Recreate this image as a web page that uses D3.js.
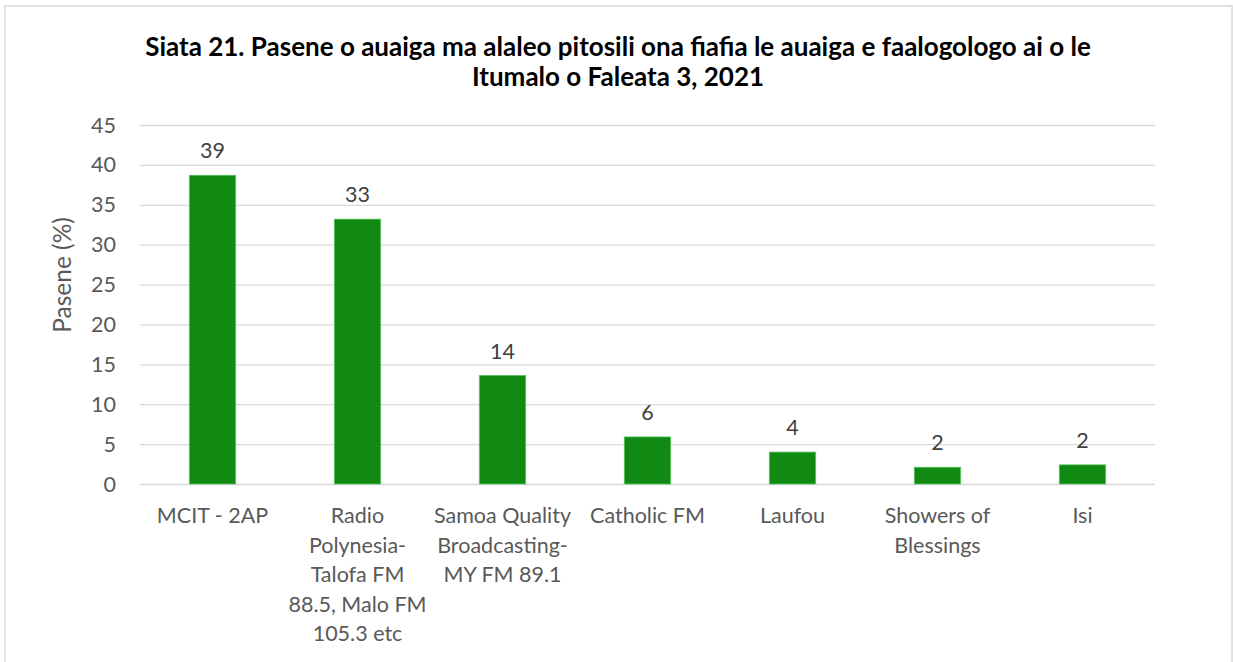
<!DOCTYPE html>
<html>
<head>
<meta charset="utf-8">
<script src="https://cdn.jsdelivr.net/npm/d3@7"></script>
<style>
  body { margin: 0; background: #fff; }
  svg { display: block; font-family: Lato, "Noto Sans", sans-serif; }
  .grid line { stroke: #d9d9d9; stroke-width: 1.3; }
  .grid path { display: none; }
  .yaxis text { fill: #595959; font-size: 21.5px; }
  .xlabel { fill: #595959; font-size: 21.5px; }
  .value { fill: #404040; font-size: 21.5px; }
  .label { fill: #595959; font-size: 24.5px; }
  .title { fill: #000; font-size: 26px; font-weight: bold; }
</style>
</head>
<body>
<svg width="1233" height="662"></svg>
<script>
const categories = [
    'MCIT - 2AP',
    'Radio Polynesia-Talofa FM 88.5, Malo FM 105.3 etc',
    'Samoa Quality Broadcasting-MY FM 89.1',
    'Catholic FM',
    'Laufou',
    'Showers of Blessings',
    'Isi'
];

// wrapped lines as they appear under each bar
const tickLabels = [
    ['MCIT - 2AP'],
    ['Radio', 'Polynesia-', 'Talofa FM', '88.5, Malo FM', '105.3 etc'],
    ['Samoa Quality', 'Broadcasting-', 'MY FM 89.1'],
    ['Catholic FM'],
    ['Laufou'],
    ['Showers of', 'Blessings'],
    ['Isi']
];

const values = [38.7, 33.2, 13.6, 5.9, 4.0, 2.1, 2.4];

const yTicks = [0, 5, 10, 15, 20, 25, 30, 35, 40, 45];

const titleLines = [
    'Siata 21. Pasene o auaiga ma alaleo pitosili ona fiafia le auaiga e faalogologo ai o le',
    'Itumalo o Faleata 3, 2021'
];

const svg = d3.select('svg');

svg.append('rect')
    .attr('x', 5)
    .attr('y', 6)
    .attr('width', 1227)
    .attr('height', 700)
    .attr('fill', 'none')
    .attr('stroke', '#d9d9d9')
    .attr('stroke-width', 1.5);

const plotLeft = 140;
const plotRight = 1155;
const plotTop = 125;
const plotBottom = 484;

const xScale = d3.scaleBand()
    .range([plotLeft, plotRight])
    .domain(categories)
    .paddingInner(0.68)
    .paddingOuter(0.34);

const yScale = d3.scaleLinear()
    .range([plotBottom, plotTop])
    .domain([0, 45]);

// gridlines
svg.append('g')
    .attr('class', 'grid')
    .attr('transform', `translate(${plotLeft}, 0)`)
    .call(d3.axisLeft(yScale)
        .tickValues(yTicks)
        .tickSize(-(plotRight - plotLeft))
        .tickFormat('')
    );

// y tick labels
svg.append('g')
    .attr('class', 'yaxis')
    .selectAll('text')
    .data(yTicks)
    .enter()
    .append('text')
    .attr('x', 116)
    .attr('y', (d) => yScale(d))
    .attr('dy', '0.35em')
    .attr('text-anchor', 'end')
    .text((d) => d);

const barGroups = svg.selectAll('.bar-g')
    .data(categories)
    .enter()
    .append('g')
    .attr('class', 'bar-g');

barGroups.append('rect')
    .attr('x', (d) => xScale(d))
    .attr('y', (d, i) => yScale(values[i]))
    .attr('width', xScale.bandwidth())
    .attr('height', (d, i) => plotBottom - yScale(values[i]))
    .attr('fill', '#118a13')
    .attr('stroke', '#5cc35e')
    .attr('stroke-width', 0.8);

barGroups.append('text')
    .attr('class', 'value')
    .attr('x', (d) => xScale(d) + xScale.bandwidth() / 2)
    .attr('y', (d, i) => yScale(values[i]) - 17)
    .attr('text-anchor', 'middle')
    .text((d, i) => Math.round(values[i]));

// category labels
barGroups.append('text')
    .attr('class', 'xlabel')
    .attr('text-anchor', 'middle')
    .attr('y', 523)
    .selectAll('tspan')
    .data((d, i) => tickLabels[i].map((line) => ({ line, x: xScale(d) + xScale.bandwidth() / 2 })))
    .enter()
    .append('tspan')
    .attr('x', (t) => t.x)
    .attr('dy', (t, j) => j === 0 ? 0 : 29.5)
    .text((t) => t.line);

svg.append('text')
    .attr('class', 'label')
    .attr('transform', 'translate(71, 275) rotate(-90)')
    .attr('text-anchor', 'middle')
    .text('Pasene (%)');

svg.append('text')
    .attr('class', 'title')
    .attr('text-anchor', 'middle')
    .selectAll('tspan')
    .data(titleLines)
    .enter()
    .append('tspan')
    .attr('x', 618)
    .attr('y', (d, i) => 56 + i * 30)
    .text((d) => d);
</script>
</body>
</html>
